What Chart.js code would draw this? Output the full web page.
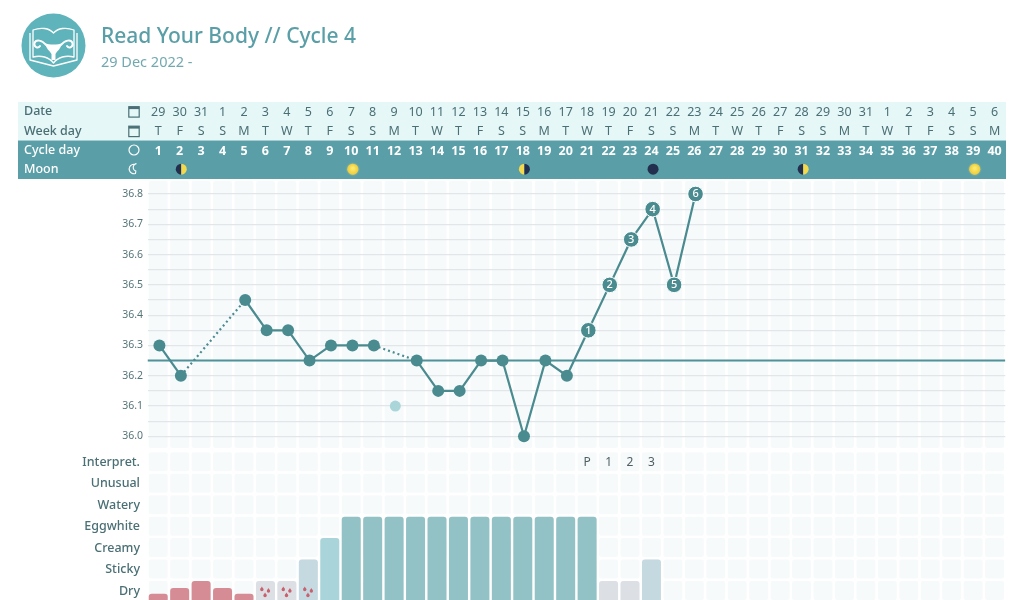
<!DOCTYPE html>
<html><head><meta charset="utf-8">
<style>
html,body{margin:0;padding:0;background:#fff;width:1023px;height:600px;overflow:hidden;font-family:"Noto Sans",sans-serif}
#c{position:absolute;left:0;top:0}
#logo{position:absolute;left:21px;top:13px}
#t{position:absolute;left:101px;top:20px;font-size:21px;font-weight:500;color:#5a9fa7;line-height:30px;white-space:nowrap}
#s{position:absolute;left:101px;top:51px;font-size:14.5px;color:#72a9af;line-height:20px;white-space:nowrap}
</style>
<script src="https://cdn.jsdelivr.net/npm/chart.js@4"></script>
</head><body>
<canvas id="c" width="1023" height="600"></canvas>
<svg id="logo" width="66" height="66" viewBox="0 0 66 66">
<circle cx="32.5" cy="32.5" r="32" fill="#5fb3bb"/>
<g fill="none" stroke="#fff" stroke-width="1.3" stroke-linejoin="round">
<path d="M9 20 L9 47 L32.5 53 L56 47 L56 20"/>
<path d="M12 17 C20 14 28 15 32.5 20 C37 15 45 14 53 17 L53 44 C45 42 37 44 32.5 50 C28 44 20 42 12 44 Z" fill="#5fb3bb"/>
</g>
<g fill="none" stroke="#fff" stroke-width="2" stroke-linecap="round">
<path d="M25 32 C21 27 15 26 13.5 30 C12.5 34 17 36 19 33"/>
<path d="M40 32 C44 27 50 26 51.5 30 C52.5 34 48 36 46 33"/>
</g>
<path d="M24 30 C28 32 37 32 41 30 C40 36 36 38 34.5 41 L34.5 47 L30.5 47 L30.5 41 C29 38 25 36 24 30Z" fill="#fff"/>
</svg>
<div id="t">Read Your Body // Cycle 4</div>
<div id="s">29 Dec 2022 -</div>
<script>
const dates=['29','30','31','1','2','3','4','5','6','7','8','9','10','11','12','13','14','15','16','17','18','19','20','21','22','23','24','25','26','27','28','29','30','31','1','2','3','4','5','6'];
const weekdays=['T','F','S','S','M','T','W','T','F','S','S','M','T','W','T','F','S','S','M','T','W','T','F','S','S','M','T','W','T','F','S','S','M','T','W','T','F','S','S','M'];
const cycleDays=['1','2','3','4','5','6','7','8','9','10','11','12','13','14','15','16','17','18','19','20','21','22','23','24','25','26','27','28','29','30','31','32','33','34','35','36','37','38','39','40'];
const moonDays=[2,10,18,24,31,39];
const moonPhases=['first','full','last','new','first','full'];
const temps=[36.3,36.2,null,null,36.45,36.35,36.35,36.25,36.3,36.3,36.3,null,36.25,36.15,36.15,36.25,36.25,36.0,36.25,36.2,36.35,36.5,36.65,36.75,36.5,36.8];
const excludedDays=[12];
const excludedTemps=[36.1];
const coverline=36.25;
const highDays=[21,22,23,24,25,26];
const highLabels=['1','2','3','4','5','6'];
const tempTicks=[36.0,36.05,36.1,36.15,36.2,36.25,36.3,36.35,36.4,36.45,36.5,36.55,36.6,36.65,36.7,36.75,36.8];
const fluidRows=['Dry','Sticky','Creamy','Eggwhite','Watery','Unusual','Interpret.'];
const fluidValues=[0.4,0.67,1,0.67,0.4,1,1,2,3,4,4,4,4,4,4,4,4,4,4,4,4,1,1,2];
const fluidKinds=['blood','blood','blood','blood','blood','spot','spot','sticky','creamy','egg','egg','egg','egg','egg','egg','egg','egg','egg','egg','egg','egg','dry','dry','sticky'];
const spottingDays=[6,7,8];
const interpretDays=[21,22,23,24];
const interpretLabels=['P','1','2','3'];
const rowTitles=['Date','Week day','Cycle day','Moon'];

const FONT='"Noto Sans", sans-serif';
const kindColor={blood:'#d58c95',spot:'#dcdfe3',sticky:'#c5dae0',creamy:'#a9d4d9',egg:'#93c2c6',dry:'#dcdfe3'};
const ROW_GAP=0.114;
function noPad(s){s.paddingTop=s.paddingBottom=s.paddingLeft=s.paddingRight=0;}
const headerAxis=(labels,weight,h,color,style,pad)=>({
  type:'category',position:'top',labels,weight,offset:true,
  grid:{display:false,drawTicks:false},border:{display:false},
  ticks:{autoSkip:false,maxRotation:0,minRotation:0,color,padding:pad,font:{family:FONT,size:12.5,weight:style}},
  afterFit(s){s.height=h;noPad(s);}
});
function rrect(c,x,y,w,h,r){c.beginPath();c.roundRect(x,y,w,h,r);c.fill();}
function calIcon(c,x,y){c.strokeStyle='#4a6f74';c.fillStyle='#4a6f74';c.lineWidth=1.2;c.strokeRect(x-5.2,y-4.8,10.4,10.4);c.fillRect(x-5.2,y-4.8,10.4,2.4);}
const page={id:'page',
  beforeDraw(ch){
    const c=ch.ctx,x=ch.scales.x,y=ch.scales.fluid,a=ch.chartArea;
    c.save();
    c.fillStyle='#e6f7f8';c.fillRect(18,102,988,38.5);
    c.fillStyle='#5a9ea7';c.fillRect(18,140.5,988,38.5);
    c.fillStyle='#f7fafb';
    for(let d=1;d<=40;d++){
      const l=x.getPixelForValue(d)-9.5;
      rrect(c,l,a.top,19,267,2);
      for(let r=0;r<fluidRows.length;r++){
        const t=y.getPixelForValue(r+1);
        rrect(c,l,t,19,19,2);
      }
    }
    c.restore();
  },
  afterDatasetsDraw(ch){
    const c=ch.ctx,x=ch.scales.x,xp=ch.scales.xp,y=ch.scales.y,f=ch.scales.fluid;
    c.save();
    c.textAlign='center';c.textBaseline='middle';
    c.fillStyle='#fff';c.font='500 11px '+FONT;
    highDays.forEach((d,i)=>c.fillText(highLabels[i],xp.getPixelForValue(d),y.getPixelForValue(temps[d-1])+0.3));
    c.fillStyle='#4f5f63';c.font='12px '+FONT;
    interpretDays.forEach((d,i)=>c.fillText(interpretLabels[i],x.getPixelForValue(d),f.getPixelForValue(6.534)));
    // spotting drops
    c.fillStyle='#c9606e';
    spottingDays.forEach(d=>{
      const cx=x.getPixelForValue(d),cy=f.getPixelForValue(0.534);
      [[-3.6,-2],[3,-0.5],[-0.4,4]].forEach(o=>{
        const px=cx+o[0],py=cy+o[1];
        c.beginPath();c.arc(px,py+0.6,1.7,0,Math.PI*2);c.fill();
        c.beginPath();c.moveTo(px-1.5,py);c.lineTo(px,py-2.6);c.lineTo(px+1.5,py);c.fill();
      });
    });
    // moons
    moonDays.forEach((d,i)=>{
      const cx=xp.getPixelForValue(d)+0.4,cy=169.2,r=5.5,ph=moonPhases[i];
      const dark='#232f4e',gold='#f3d94e';
      if(ph==='full'){
        c.shadowColor='rgba(250,230,120,.7)';c.shadowBlur=2;
        const g=c.createRadialGradient(cx,cy-1,1,cx,cy,r);g.addColorStop(0,'#fbe96a');g.addColorStop(1,'#eecb3a');
        c.fillStyle=g;c.beginPath();c.arc(cx,cy,r,0,Math.PI*2);c.fill();
        c.shadowBlur=0;
      }else if(ph==='new'){
        c.fillStyle=dark;c.beginPath();c.arc(cx,cy,r,0,Math.PI*2);c.fill();
      }else{
        c.fillStyle=ph==='first'?dark:gold;c.beginPath();c.arc(cx,cy,r,Math.PI/2,Math.PI*1.5);c.fill();
        c.fillStyle=ph==='first'?gold:dark;c.beginPath();c.arc(cx,cy,r,-Math.PI/2,Math.PI/2);c.fill();
      }
    });
    // row titles and icons
    c.textAlign='left';c.font='500 12.5px '+FONT;
    const rows=[111.8,131,150.5,169.5];
    rowTitles.forEach((t,i)=>{c.fillStyle=i<2?'#4a6f74':'#fff';c.fillText(t,24,rows[i]);});
    calIcon(c,134,111.5);calIcon(c,134,131);
    c.strokeStyle='#fff';c.lineWidth=1.2;c.beginPath();c.arc(134,150,5,0,Math.PI*2);c.stroke();
    c.strokeStyle='#fff';c.lineWidth=1.1;c.beginPath();c.arc(134,169,4.8,Math.PI*0.4,Math.PI*1.55);c.arc(137,167.5,3.8,Math.PI*1.45,Math.PI*0.6,true);c.closePath();c.stroke();
    c.restore();
  }
};
new Chart(document.getElementById('c'),{
  type:'bar',
  data:{datasets:[
    {type:'bar',order:4,xAxisID:'x',yAxisID:'fluid',grouped:false,
     data:fluidValues.map((v,i)=>({x:i+1,y:v})),
     backgroundColor:fluidKinds.map(k=>kindColor[k]),
     categoryPercentage:1,barPercentage:0.886,borderRadius:{topLeft:3,topRight:3,bottomLeft:0,bottomRight:0},borderSkipped:false},
    {type:'line',order:3,xAxisID:'x',yAxisID:'y',
     data:[{x:0.5,y:coverline},{x:40.5,y:coverline}],
     borderColor:'#4f9299',borderWidth:2,pointRadius:0,fill:false,tension:0},
    {type:'line',order:2,xAxisID:'xp',yAxisID:'y',showLine:false,
     data:excludedDays.map((d,i)=>({x:d,y:excludedTemps[i]})),
     pointRadius:5.5,pointBackgroundColor:'#aad6da',pointBorderWidth:0},
    {type:'line',order:1,xAxisID:'xp',yAxisID:'y',
     data:temps.map((v,i)=>({x:i+1,y:v})),
     borderColor:'#4a8b90',borderWidth:2.2,tension:0,spanGaps:true,clip:false,
     segment:{borderDash:ctx=>(ctx.p0.skip||ctx.p1.skip)?[2,3]:undefined},
     pointRadius:ctx=>highDays.includes(ctx.dataIndex+1)?7.8:6,
     pointBackgroundColor:'#4a8b90',
     pointBorderColor:'#fff',
     pointBorderWidth:ctx=>highDays.includes(ctx.dataIndex+1)?1:0}
  ]},
  plugins:[page],
  options:{
    responsive:false,animation:false,events:[],
    layout:{autoPadding:false,padding:{top:101.7,right:17.7,left:0,bottom:0}},
    plugins:{legend:{display:false},tooltip:{enabled:false}},
    scales:{
      x:{type:'linear',min:0.5,max:40.5,display:false,offset:false,grid:{display:false}},
      xp:{type:'linear',min:0.444,max:40.444,display:false,offset:false,grid:{display:false}},
      moonAxis:headerAxis(cycleDays.map(()=>''),1,21.3,'#fff',400,0),
      cycleAxis:headerAxis(cycleDays,2,19.3,'#fff',700,1),
      weekAxis:headerAxis(weekdays,3,19.3,'#4a6f74',400,1),
      dateAxis:headerAxis(dates,4,19.4,'#4a6f74',400,1),
      y:{type:'linear',position:'left',stack:'rows',stackWeight:268.85,weight:2,min:35.9553,max:36.8429,
         border:{display:false},
         grid:{color:'#e3e6e9',lineWidth:1.2,drawTicks:false},
         afterBuildTicks(s){s.ticks=tempTicks.map(v=>({value:v}));},
         ticks:{autoSkip:false,padding:4.5,color:'#567579',font:{family:FONT,size:10.5},
           callback:v=>Math.abs(v*10-Math.round(v*10))<1e-6?v.toFixed(1):''},
         afterFit(s){s.width=147.5;noPad(s);}},
      fluid:{type:'linear',position:'left',stack:'rows',stackWeight:150.15,weight:1,min:ROW_GAP,max:7+ROW_GAP,
         border:{display:false},grid:{display:false,drawTicks:false},
         afterBuildTicks(s){s.ticks=fluidRows.map((r,i)=>({value:i+0.534}));},
         ticks:{autoSkip:false,padding:7.5,color:'#4a6f74',font:{family:FONT,size:12.5,weight:500},
           callback:v=>fluidRows[Math.floor(v)]},
         afterFit(s){s.width=147.5;noPad(s);}}
    }
  }
});
</script>
</body></html>
